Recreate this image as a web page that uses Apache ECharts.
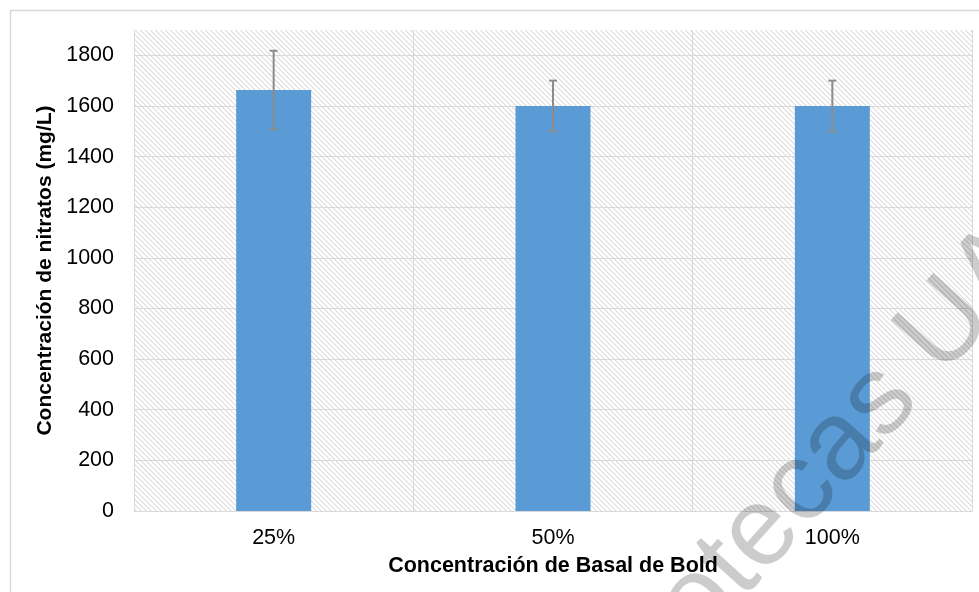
<!DOCTYPE html>
<html>
<head>
<meta charset="utf-8">
<script src="https://cdn.jsdelivr.net/npm/echarts@6/dist/echarts.min.js"></script>
<style>
html,body{margin:0;padding:0;background:#fff;}
#chart{width:979px;height:592px;}
</style>
</head>
<body>
<div id="chart"></div>
<script>
// ---- data ----
const categories = ['25%', '50%', '100%'];
const nitrateValues = [1663, 1600, 1600];
const errorLow = [1508, 1500, 1500];
const errorHigh = [1818, 1700, 1700];
const yTicks = [0, 200, 400, 600, 800, 1000, 1200, 1400, 1600, 1800];
const xTitle = 'Concentración de Basal de Bold';
const yTitle = 'Concentración de nitratos (mg/L)';
const watermark = 'Bibliotecas UA';

// hatch pattern tile
const tile = document.createElement('canvas');
tile.width = 5; tile.height = 5;
const tc = tile.getContext('2d');
tc.fillStyle = '#ffffff'; tc.fillRect(0, 0, 5, 5);
for (let i = 0; i < 5; i++) {
  tc.fillStyle = '#dcdcdc'; tc.fillRect(i, i, 1, 1);
  tc.fillStyle = '#f0f0f0'; tc.fillRect((i + 1) % 5, i, 1, 1);
}

const errData = categories.map((c, i) => [i, errorLow[i], errorHigh[i]]);

const ang = 48 * Math.PI / 180;

const chart = echarts.init(document.getElementById('chart'), null, {renderer: 'canvas'});
chart.setOption({
  animation: false,
  backgroundColor: '#ffffff',
  grid: {
    left: 134, right: 7, top: 30, bottom: 81,
    show: true, borderWidth: 0,
    backgroundColor: {image: tile, repeat: 'repeat'}
  },
  xAxis: {
    type: 'category',
    data: categories,
    boundaryGap: true,
    axisLine: {show: true, lineStyle: {color: '#d9d9d9', width: 1}},
    axisTick: {show: false},
    axisLabel: {color: '#000', fontFamily: 'Liberation Sans, Arial', fontSize: 21.5, margin: 16},
    splitLine: {show: true, interval: 0, lineStyle: {color: '#d9d9d9', width: 1}},
    name: xTitle,
    nameLocation: 'middle',
    nameGap: 44,
    nameTextStyle: {color: '#000', fontFamily: 'Liberation Sans, Arial', fontSize: 21.5, fontWeight: 'bold'}
  },
  yAxis: {
    type: 'value',
    min: 0, max: 1900, interval: 200,
    axisLine: {show: false},
    axisTick: {show: false},
    axisLabel: {
      color: '#000', fontFamily: 'Liberation Sans, Arial', fontSize: 21.5, margin: 20,
      showMaxLabel: false,
      formatter: v => (yTicks.indexOf(v) >= 0 ? String(v) : '')
    },
    splitLine: {show: true, showMaxLine: false, lineStyle: {color: '#d9d9d9', width: 1}},
    name: yTitle,
    nameLocation: 'middle',
    nameGap: 75,
    nameTextStyle: {color: '#000', fontFamily: 'Liberation Sans, Arial', fontSize: 21, fontWeight: 'bold'}
  },
  series: [
    {
      type: 'bar',
      data: nitrateValues,
      barWidth: 75,
      itemStyle: {color: '#5b9bd5'},
      z: 2
    },
    {
      type: 'custom',
      data: errData,
      z: 3,
      renderItem: function (params, api) {
        const x = api.value(0);
        const lo = api.coord([x, api.value(1)]);
        const hi = api.coord([x, api.value(2)]);
        const hw = 4;
        const st = {stroke: '#8c8c8c', lineWidth: 2};
        return {
          type: 'group',
          children: [
            {type: 'line', shape: {x1: lo[0], y1: lo[1], x2: hi[0], y2: hi[1]}, style: st},
            {type: 'line', shape: {x1: hi[0] - hw, y1: hi[1], x2: hi[0] + hw, y2: hi[1]}, style: st},
            {type: 'line', shape: {x1: lo[0] - hw, y1: lo[1], x2: lo[0] + hw, y2: lo[1]}, style: st}
          ]
        };
      }
    }
  ],
  graphic: [
    {
      type: 'rect', z: 0, silent: true,
      shape: {x: 10.5, y: 10.5, width: 1000, height: 1000},
      style: {fill: 'none', stroke: '#d9d9d9', lineWidth: 1.5}
    },
    {
      type: 'text', z: 100, silent: true,
      x: 536, y: 783, rotation: ang,
      style: {
        text: watermark,
        font: '112px "Liberation Sans", Arial',
        fill: 'rgba(0,0,0,0.2)',
        textAlign: 'left',
        textVerticalAlign: 'middle'
      }
    }
  ]
});
</script>
</body>
</html>
